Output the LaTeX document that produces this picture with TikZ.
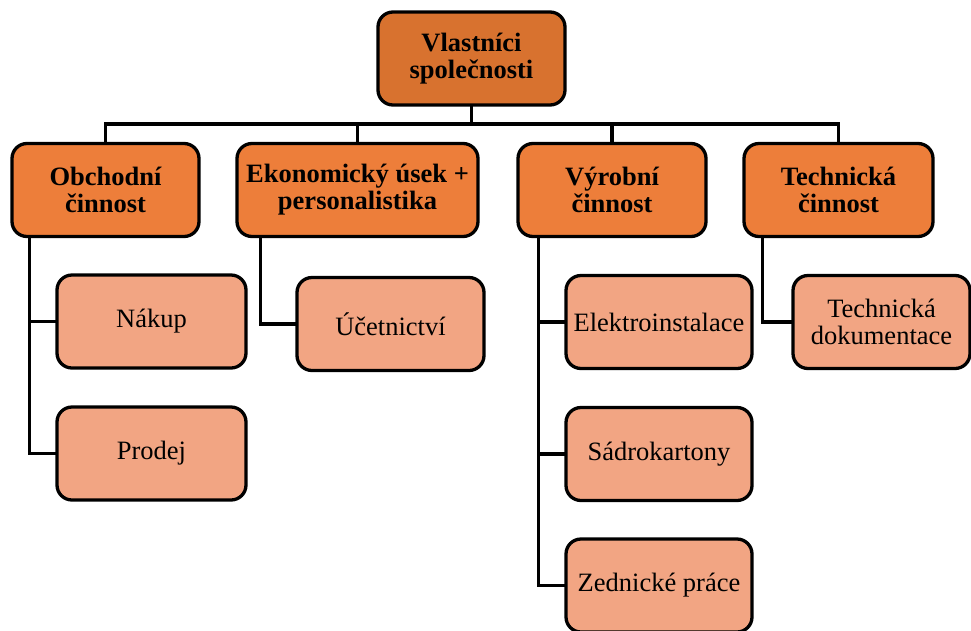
\documentclass[tikz,border=0pt]{standalone}
\usepackage{fontspec}
\setmainfont{Liberation Serif}
\usepackage{xcolor}
\usetikzlibrary{positioning}
\definecolor{vedeni}{HTML}{D8722F}
\definecolor{usek}{HTML}{ED7E3A}
\definecolor{cinnost}{HTML}{F2A583}
\tikzset{
    box/.style={draw=black, line width=3.3pt, rounded corners=15pt, align=center,
        inner sep=2pt, minimum height=93pt, font=\fontsize{26.5}{27}\selectfont},
    topbox/.style={box, fill=vedeni, font=\fontsize{26.5}{27}\selectfont\bfseries},
    headbox/.style={box, fill=usek, font=\fontsize{26.5}{27}\selectfont\bfseries},
    leafbox/.style={box, fill=cinnost},
    link/.style={line width=3.3pt, line cap=rect},
}

\begin{document}
\begin{tikzpicture}[x=1pt, y=-1pt]
    \useasboundingbox (0,0) rectangle (971,630);

    % Vedeni
    \node[topbox, minimum width=187pt] (majitele) at (471.5,58.5) {Vlastníci\\společnosti};

    % Useky
    \node[headbox, minimum width=187pt] (obchod) at (105.5,190) {Obchodní\\činnost};
    \node[headbox, minimum width=241pt] (ekonom) at (357.5,190) {Ekonomický úsek +\\personalistika};
    \node[headbox, minimum width=188pt] (vyroba) at (612,190) {Výrobní\\činnost};
    \node[headbox, minimum width=189pt] (technika) at (838.5,190) {Technická\\činnost};

    % Cinnosti
    \node[leafbox, minimum width=189pt] (nakup) at (151.5,321.5) {Nákup};
    \node[leafbox, minimum width=189pt] (prodej) at (151.5,453.5) {Prodej};
    \node[leafbox, minimum width=187pt] (ucetnictvi) at (390.5,324) {Účetnictví};
    \node[leafbox, minimum width=186pt] (elektro) at (659,322) {Elektroinstalace};
    \node[leafbox, minimum width=186pt] (sadrokarton) at (659,454) {Sádrokartony};
    \node[leafbox, minimum width=186pt] (zednik) at (659,585.5) {Zednické práce};
    \node[leafbox, minimum width=177pt] (dokumentace) at (881.5,322) {Technická\\dokumentace};

    % Sbernice
    \coordinate (sbernice) at (0,124);
    \draw[link] (majitele.south) -- (majitele.south |- sbernice);
    \draw[link] (obchod.north) -- (obchod.north |- sbernice) -- (technika.north |- sbernice) -- (technika.north);
    \draw[link] (ekonom.north) -- (ekonom.north |- sbernice);
    \draw[link] (vyroba.north) -- (vyroba.north |- sbernice);

    % Vetve k cinnostem
    \coordinate (obchodL) at ([xshift=19pt]obchod.south west);
    \coordinate (ekonomL) at ([xshift=25pt]ekonom.south west);
    \coordinate (vyrobaL) at ([xshift=22pt]vyroba.south west);
    \coordinate (technikaL) at ([xshift=20pt]technika.south west);
    \draw[link] (obchodL) |- (prodej.west);
    \draw[link] (obchodL |- nakup.west) -- (nakup.west);
    \draw[link] (ekonomL) |- (ucetnictvi.west);
    \draw[link] (vyrobaL) |- (zednik.west);
    \draw[link] (vyrobaL |- elektro.west) -- (elektro.west);
    \draw[link] (vyrobaL |- sadrokarton.west) -- (sadrokarton.west);
    \draw[link] (technikaL) |- (dokumentace.west);
\end{tikzpicture}
\end{document}
